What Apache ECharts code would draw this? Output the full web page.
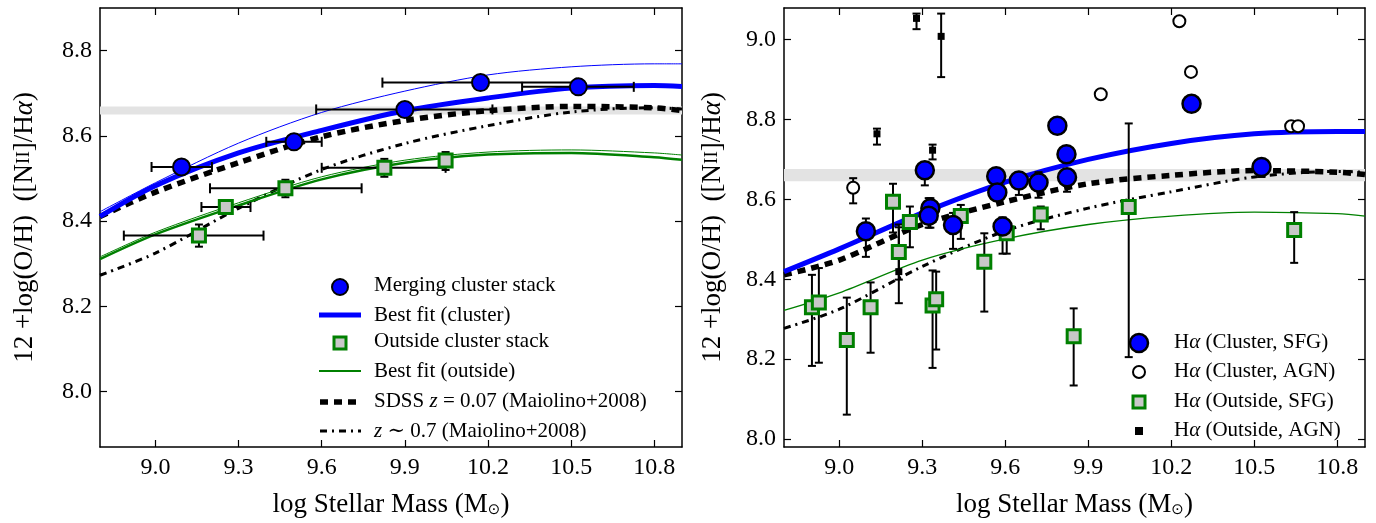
<!DOCTYPE html>
<html><head><meta charset="utf-8">
<script src="https://cdn.jsdelivr.net/npm/echarts@6/dist/echarts.min.js"></script>
<style>html,body{margin:0;padding:0;background:#fff}#c{width:1376px;height:523px}</style>
</head><body><div id="c"></div>
<script>
// ---------- data ----------
const curveX = [8.8, 9.0, 9.3, 9.6, 9.9, 10.2, 10.5, 10.8, 10.9];
// left panel curves
const L_blueThick = [8.411, 8.483, 8.560, 8.613, 8.659, 8.689, 8.712, 8.718, 8.716];
const L_blueThin  = [8.422, 8.490, 8.583, 8.655, 8.705, 8.743, 8.762, 8.769, 8.769];
const L_sdss      = [8.411, 8.468, 8.537, 8.598, 8.636, 8.659, 8.669, 8.666, 8.659];
const L_z07       = [8.273, 8.325, 8.430, 8.521, 8.582, 8.624, 8.656, 8.666, 8.663];
const L_greenThick= [8.311, 8.369, 8.437, 8.498, 8.537, 8.556, 8.560, 8.550, 8.544];
const L_greenThin = [8.316, 8.374, 8.443, 8.504, 8.543, 8.562, 8.567, 8.560, 8.555];
// right panel curves
const R_blue  = [8.419, 8.476, 8.566, 8.643, 8.700, 8.740, 8.764, 8.770, 8.770];
const R_sdss  = [8.411, 8.448, 8.537, 8.594, 8.639, 8.660, 8.672, 8.668, 8.662];
const R_z07   = [8.277, 8.325, 8.432, 8.521, 8.578, 8.619, 8.656, 8.670, 8.668];
const R_green = [8.322, 8.366, 8.448, 8.501, 8.537, 8.558, 8.568, 8.564, 8.558];
const bandL = [8.650, 8.669];
const bandR = [8.645, 8.676];
// left stacks: [x, y, xlo, xhi, ylo, yhi]
const clusterStack = [
  [9.094, 8.527, 8.986, 9.204, 8.527, 8.527],
  [9.500, 8.586, 9.400, 9.600, 8.586, 8.586],
  [9.900, 8.662, 9.580, 10.216, 8.662, 8.662],
  [10.173, 8.725, 9.819, 10.519, 8.725, 8.725],
  [10.526, 8.715, 10.323, 10.726, 8.715, 8.715]
];
const outsideStack = [
  [9.157, 8.366, 8.886, 9.390, 8.340, 8.392],
  [9.254, 8.433, 9.166, 9.343, 8.433, 8.433],
  [9.469, 8.477, 9.197, 9.744, 8.456, 8.497],
  [9.826, 8.525, 9.600, 10.047, 8.504, 8.546],
  [10.047, 8.542, 10.047, 10.047, 8.520, 8.562]
];
// right individual galaxies: [x, y, ylo, yhi]
const clusterSFG = [
  [9.096, 8.520, 8.456, 8.552], [9.309, 8.673, 8.635, 8.692],
  [9.329, 8.578, 8.529, 8.603], [9.323, 8.559, 8.529, 8.603],
  [9.411, 8.536, 8.476, 8.566], [9.567, 8.658, 8.658, 8.658],
  [9.571, 8.617, 8.617, 8.617], [9.590, 8.532, 8.464, 8.555],
  [9.649, 8.647, 8.611, 8.668], [9.720, 8.642, 8.604, 8.668],
  [9.788, 8.784, 8.784, 8.784], [9.821, 8.713, 8.713, 8.713],
  [9.823, 8.655, 8.619, 8.676], [10.273, 8.839, 8.839, 8.839],
  [10.526, 8.681, 8.656, 8.700]
];
const clusterAGN = [
  [9.050, 8.629, 8.590, 8.653], [9.945, 8.863, 8.863, 8.863],
  [10.229, 9.046, 9.046, 9.046], [10.271, 8.919, 8.919, 8.919],
  [10.633, 8.783, 8.783, 8.783], [10.658, 8.783, 8.783, 8.783]
];
const outsideSFG = [
  [8.901, 8.330, 8.183, 8.411], [8.926, 8.342, 8.191, 8.428],
  [9.027, 8.248, 8.061, 8.354], [9.113, 8.330, 8.216, 8.392],
  [9.194, 8.594, 8.517, 8.639], [9.215, 8.468, 8.399, 8.537],
  [9.255, 8.543, 8.480, 8.582], [9.337, 8.334, 8.178, 8.422],
  [9.350, 8.350, 8.224, 8.419], [9.439, 8.558, 8.501, 8.586],
  [9.524, 8.444, 8.319, 8.515], [9.605, 8.515, 8.464, 8.537],
  [9.728, 8.562, 8.525, 8.582], [9.847, 8.257, 8.134, 8.327],
  [10.046, 8.581, 8.205, 8.790], [10.644, 8.523, 8.441, 8.568]
];
const outsideAGN = [
  [9.279, 9.053, 9.026, 9.065], [9.368, 9.008, 8.906, 9.065],
  [9.136, 8.764, 8.737, 8.777], [9.337, 8.723, 8.700, 8.737],
  [9.215, 8.419, 8.340, 8.530]
];
const xTicks = [9.0, 9.3, 9.6, 9.9, 10.2, 10.5, 10.8];
const yTicksL = [8.0, 8.2, 8.4, 8.6, 8.8];
const yTicksR = [8.0, 8.2, 8.4, 8.6, 8.8, 9.0];

// ---------- chart ----------
const FONT = '"Liberation Serif", "DejaVu Serif", serif';
const chart = echarts.init(document.getElementById('c'));
const grids = [
  {left: 100, top: 8, width: 582, height: 450},
  {left: 784, top: 8, width: 581, height: 450}
];
const xr = {min: 8.8, max: 10.9};
const yrs = [{min: 7.87, max: 8.9}, {min: 7.98, max: 9.079}];
const yTickSets = [yTicksL, yTicksR];
function fmt(v){ return v.toFixed(1); }
const xAxis = [], yAxis = [];
for (let g = 0; g < 2; g++) {
  xAxis.push({type:'value', gridIndex:g, ...xr, position:'bottom',
    axisLine:{onZero:false, lineStyle:{color:'#000', width:1.5}},
    axisTick:{inside:true, length:7, customValues:xTicks, lineStyle:{color:'#000', width:1.2}},
    axisLabel:{customValues:xTicks, formatter:fmt, color:'#000', fontFamily:FONT, fontSize:24, margin:9},
    splitLine:{show:false},
    name:'{t|log Stellar Mass (M}{s|⊙}{t|)}', nameLocation:'middle', nameGap:44,
    nameTextStyle:{rich:{t:{fontFamily:FONT, fontSize:27, color:'#000'}, s:{fontFamily:'DejaVu Sans', fontSize:15, color:'#000', verticalAlign:'bottom', padding:[12,0,0,0]}}}});
  xAxis.push({type:'value', gridIndex:g, ...xr, position:'top',
    axisLine:{onZero:false, lineStyle:{color:'#000', width:1.5}},
    axisTick:{inside:true, length:7, customValues:xTicks, lineStyle:{color:'#000', width:1.2}},
    axisLabel:{show:false}, splitLine:{show:false}});
  yAxis.push({type:'value', gridIndex:g, ...yrs[g], position:'left',
    axisLine:{onZero:false, lineStyle:{color:'#000', width:1.5}},
    axisTick:{inside:true, length:7, customValues:yTickSets[g], lineStyle:{color:'#000', width:1.2}},
    axisLabel:{customValues:yTickSets[g], formatter:fmt, color:'#000', fontFamily:FONT, fontSize:24, margin:8},
    splitLine:{show:false},
    name:'{t|12 +log(O/H)  ([N}{s|II}{t|]/H}{i|α}{t|)}', nameLocation:'middle', nameGap:g===0?62:58,
    nameTextStyle:{rich:{t:{fontFamily:FONT, fontSize:27, color:'#000'}, s:{fontFamily:FONT, fontSize:19, color:'#000'}, i:{fontFamily:FONT, fontStyle:'italic', fontSize:27, color:'#000'}}}});
  yAxis.push({type:'value', gridIndex:g, ...yrs[g], position:'right',
    axisLine:{onZero:false, lineStyle:{color:'#000', width:1.5}},
    axisTick:{inside:true, length:7, customValues:yTickSets[g], lineStyle:{color:'#000', width:1.2}},
    axisLabel:{show:false}, splitLine:{show:false}});
}
function pairs(ys){ return curveX.map((x,i)=>[x, ys[i]]); }
function line(g, ys, color, width, type, z){
  return {type:'line', xAxisIndex:2*g, yAxisIndex:2*g, data:pairs(ys), smooth:0.3, symbol:'none',
    lineStyle:{color, width, type: type||'solid', cap:'butt'}, z: z||3, silent:true, animation:false};
}
function band(g, b){
  return {type:'line', xAxisIndex:2*g, yAxisIndex:2*g, data:[], markArea:{silent:true,
    itemStyle:{color:'#e3e3e3'}, data:[[{yAxis:b[0], xAxis:8.8},{yAxis:b[1], xAxis:10.9}]]}, z:1};
}
function errSeries(g, data, hasX){
  return {type:'custom', xAxisIndex:2*g, yAxisIndex:2*g, data, z:4, animation:false, silent:true,
    renderItem(params, api){
      const ch = [];
      const st = {stroke:'#000', lineWidth:2};
      const x = api.value(0), y = api.value(1);
      let ylo, yhi, xlo, xhi;
      if (hasX){ xlo=api.value(2); xhi=api.value(3); ylo=api.value(4); yhi=api.value(5); }
      else { ylo=api.value(2); yhi=api.value(3); }
      if (hasX && xhi > xlo){
        const a = api.coord([xlo, y]), b = api.coord([xhi, y]);
        ch.push({type:'line', shape:{x1:a[0],y1:a[1],x2:b[0],y2:b[1]}, style:st});
        ch.push({type:'line', shape:{x1:a[0],y1:a[1]-5,x2:a[0],y2:a[1]+5}, style:st});
        ch.push({type:'line', shape:{x1:b[0],y1:b[1]-5,x2:b[0],y2:b[1]+5}, style:st});
      }
      if (yhi > ylo){
        const a = api.coord([x, ylo]), b = api.coord([x, yhi]);
        ch.push({type:'line', shape:{x1:a[0],y1:a[1],x2:b[0],y2:b[1]}, style:st});
        ch.push({type:'line', shape:{x1:a[0]-4,y1:a[1],x2:a[0]+4,y2:a[1]}, style:st});
        ch.push({type:'line', shape:{x1:b[0]-4,y1:b[1],x2:b[0]+4,y2:b[1]}, style:st});
      }
      return {type:'group', children:ch};
    }};
}
function scat(g, data, symbol, size, fill, stroke, bw, z){
  return {type:'scatter', xAxisIndex:2*g, yAxisIndex:2*g, data:data.map(d=>[d[0], d[1]]),
    symbol, symbolSize:size, itemStyle:{color:fill, borderColor:stroke, borderWidth:bw, opacity:1}, z:z||5, animation:false, silent:true};
}
const series = [
  band(0, bandL), band(1, bandR),
  line(0, L_z07, '#000', 3, [7,5,2,5], 2),
  line(0, L_sdss, '#000', 5.5, [8,6], 2),
  line(0, L_blueThin, '#0000ff', 1),
  line(0, L_blueThick, '#0000ff', 5),
  line(0, L_greenThin, '#008000', 1),
  line(0, L_greenThick, '#008000', 2.5),
  errSeries(0, clusterStack, true), errSeries(0, outsideStack, true),
  scat(0, clusterStack, 'circle', 17, '#0000ff', '#000', 2),
  scat(0, outsideStack, 'rect', 13, '#c8c8c8', '#008000', 3),
  line(1, R_z07, '#000', 3, [7,5,2,5], 2),
  line(1, R_sdss, '#000', 5.5, [8,6], 2),
  line(1, R_blue, '#0000ff', 5),
  line(1, R_green, '#008000', 1.3),
  errSeries(1, clusterSFG, false), errSeries(1, clusterAGN, false),
  errSeries(1, outsideSFG, false), errSeries(1, outsideAGN, false),
  scat(1, outsideAGN, 'rect', 7, '#000', '#000', 0, 6),
  scat(1, outsideSFG, 'rect', 13, '#c8c8c8', '#008000', 3, 6),
  scat(1, clusterAGN, 'circle', 12, '#fff', '#000', 2, 6),
  scat(1, clusterSFG, 'circle', 18, '#0000ff', '#000', 2.5, 7)
];
const T = (x,y,txt)=>({type:'text', left:x, top:y-12, style:{text:txt, fontFamily:FONT, fontSize:21, fill:'#000',
  rich:{i:{fontFamily:FONT, fontStyle:'italic', fontSize:21}}}});
const gl = [];
const lx = 340, tx = 374;
gl.push({type:'circle', shape:{cx:lx, cy:287, r:8}, style:{fill:'#0000ff', stroke:'#000', lineWidth:2}});
gl.push(T(tx,287,'Merging cluster stack'));
gl.push({type:'line', shape:{x1:319,y1:315,x2:361,y2:315}, style:{stroke:'#0000ff', lineWidth:5}});
gl.push(T(tx,317,'Best fit (cluster)'));
gl.push({type:'rect', shape:{x:lx-6,y:337,width:12,height:12}, style:{fill:'#c8c8c8', stroke:'#008000', lineWidth:3}});
gl.push(T(tx,343,'Outside cluster stack'));
gl.push({type:'line', shape:{x1:319,y1:371,x2:361,y2:371}, style:{stroke:'#008000', lineWidth:2}});
gl.push(T(tx,373,'Best fit (outside)'));
gl.push({type:'line', shape:{x1:320,y1:402,x2:361,y2:402}, style:{stroke:'#000', lineWidth:5.5, lineDash:[8,6]}});
gl.push(T(tx,403,'SDSS {i|z} = 0.07 (Maiolino+2008)'));
gl.push({type:'line', shape:{x1:320,y1:431,x2:361,y2:431}, style:{stroke:'#000', lineWidth:3, lineDash:[7,5,2,5]}});
gl.push(T(tx,433,'{i|z} ∼ 0.7 (Maiolino+2008)'));
const rx = 1139, rtx = 1174;
gl.push({type:'circle', shape:{cx:rx, cy:343, r:9}, style:{fill:'#0000ff', stroke:'#000', lineWidth:2.5}});
gl.push(T(rtx,344,'H{i|α} (Cluster, SFG)'));
gl.push({type:'circle', shape:{cx:rx, cy:372, r:6}, style:{fill:'#fff', stroke:'#000', lineWidth:2}});
gl.push(T(rtx,373,'H{i|α} (Cluster, AGN)'));
gl.push({type:'rect', shape:{x:rx-6,y:396,width:12,height:12}, style:{fill:'#c8c8c8', stroke:'#008000', lineWidth:3}});
gl.push(T(rtx,403,'H{i|α} (Outside, SFG)'));
gl.push({type:'rect', shape:{x:rx-4,y:427,width:8,height:8}, style:{fill:'#000'}});
gl.push(T(rtx,432,'H{i|α} (Outside, AGN)'));
chart.setOption({animation:false, grid:grids, xAxis, yAxis, series, graphic:gl});
</script></body></html>
